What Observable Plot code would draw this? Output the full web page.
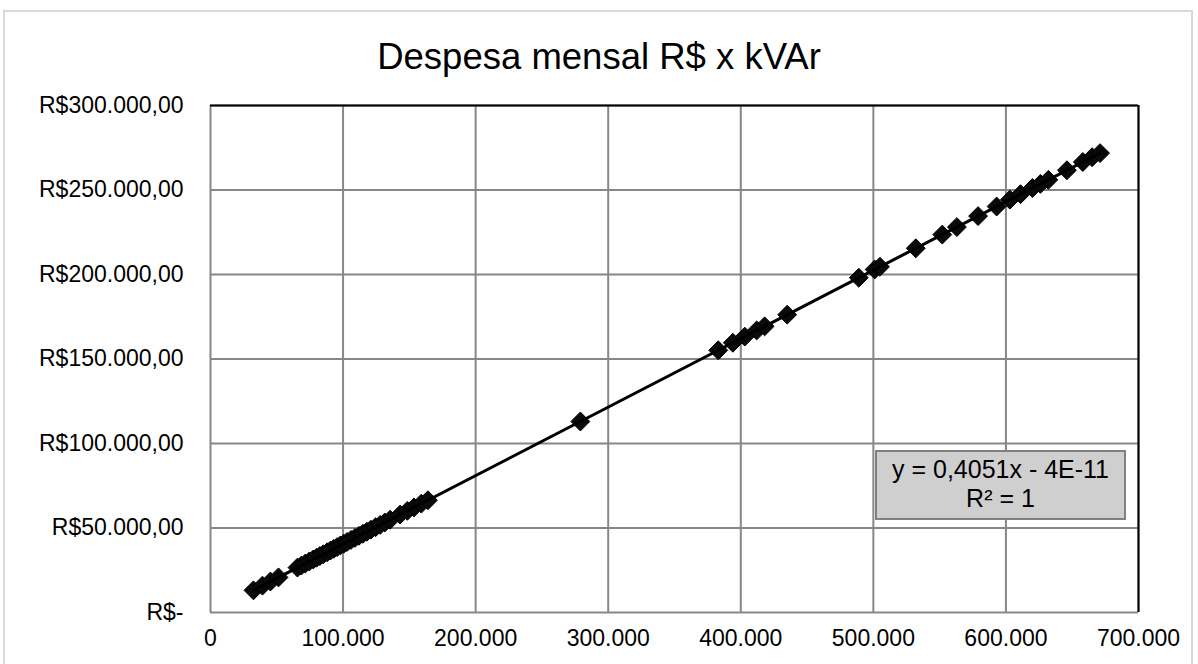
<!DOCTYPE html>
<html>
<head>
<meta charset="utf-8">
<script src="https://cdn.jsdelivr.net/npm/d3@7"></script>
<script src="https://cdn.jsdelivr.net/npm/@observablehq/plot@0.6"></script>
<style>
  html, body { margin: 0; padding: 0; background: #fff; }
  #wrap { position: relative; width: 1198px; height: 664px; overflow: hidden; font-family: "Liberation Sans", Arial, sans-serif; }
  #frame { position: absolute; left: 3px; top: 10px; width: 1190px; height: 664px; border: 2px solid #d9d9d9; box-sizing: border-box; pointer-events: none; }
  #title { height: 80px; box-sizing: border-box; padding-top: 37px; text-align: center; font-size: 36.5px; line-height: 40px; color: #000; }
  #chart svg { display: block; }
  #chart svg text { font-size: 23px; fill: #000; }
  #eq { position: absolute; left: 875px; top: 450px; width: 251px; height: 70px; box-sizing: border-box;
        background: #d0cfd0; border: 2px solid #808080; text-align: center; font-size: 25px; line-height: 29px; padding-top: 3px; color: #000; }
</style>
</head>
<body>
<div id="wrap">
  <div id="frame"></div>
  <div id="title">Despesa mensal R$ x kVAr</div>
  <div id="chart"></div>
  <div id="eq">y = 0,4051x - 4E-11<br>R² = 1</div>
</div>
<script>
// Monthly reactive energy (kVAr) and the matching monthly expense (R$)
const kvar = [
  32400, 39200, 45200, 51300, 65600, 68500, 71500, 74500, 77500, 80000,
  82500, 85000, 88000, 90500, 93000, 95500, 98000, 100500, 103000, 106000,
  109000, 112000, 115000, 118000, 121000, 124500, 128000, 131500, 135500, 143000,
  148500, 153500, 159000, 164000, 279000, 383000, 394000, 403000, 412000, 418000,
  435000, 489000, 501000, 505000, 532000, 552000, 563000, 579000, 593000, 603000,
  611000, 620000, 626000, 632000, 646000, 658000, 665000, 671000
];
const despesa = [
  13125, 15880, 18311, 20782, 26575, 27749, 28965, 30180, 31395, 32408,
  33421, 34434, 35649, 36662, 37674, 38687, 39700, 40713, 41725, 42941,
  44156, 45371, 46587, 47802, 49017, 50435, 51853, 53271, 54891, 57929,
  60157, 62183, 64411, 66436, 113023, 155153, 159609, 163255, 166901, 169332,
  176219, 198094, 202955, 204576, 215513, 223615, 228071, 234553, 240224, 244275,
  247516, 251162, 253593, 256023, 261695, 266556, 269392, 271822
];

// Axis ticks
const xTicks = [0, 100000, 200000, 300000, 400000, 500000, 600000, 700000];
const yTicks = [0, 50000, 100000, 150000, 200000, 250000, 300000];

const data = kvar.map((k, i) => ({kvar: k, despesa: despesa[i]}));

// Brazilian number formatting
const br = d3.formatLocale({decimal: ",", thousands: ".", grouping: [3], currency: ["R$", ""]});
const fmtMoney = br.format("$,.2f");
const fmtNum = br.format(",.0f");
const fmtY = d => d === 0 ? "R$-" : fmtMoney(d);

const grid = "#878787";

const chart = Plot.plot({
  width: 1198,
  height: 584,
  marginLeft: 210,
  marginRight: 60,
  marginTop: 25,
  marginBottom: 52,
  style: {fontFamily: "'Liberation Sans', Arial, sans-serif", fontSize: "23px", color: "#000", background: "transparent"},
  x: {domain: [0, 700000], label: null},
  y: {domain: [0, 300000], label: null},
  marks: [
    Plot.gridX(xTicks, {stroke: grid, strokeOpacity: 1, strokeWidth: 2}),
    Plot.gridY(yTicks, {stroke: grid, strokeOpacity: 1, strokeWidth: 2}),
    Plot.ruleY([300000], {stroke: "#000", strokeWidth: 2}),
    Plot.ruleX([700000], {stroke: "#000", strokeWidth: 2}),
    Plot.axisX(xTicks, {tickSize: 0, tickPadding: 17, tickFormat: fmtNum, label: null}),
    Plot.axisY(yTicks, {tickSize: 0, tickPadding: 27, tickFormat: fmtY, label: null}),
    Plot.dot(data, {x: "kvar", y: "despesa", symbol: "diamond2", r: 8.5, fill: "#0a0a0a", stroke: "#000", strokeWidth: 1}),
    Plot.linearRegressionY(data, {x: "kvar", y: "despesa", ci: 0, stroke: "#000", strokeWidth: 3})
  ]
});

document.getElementById("chart").appendChild(chart);
</script>
</body>
</html>
